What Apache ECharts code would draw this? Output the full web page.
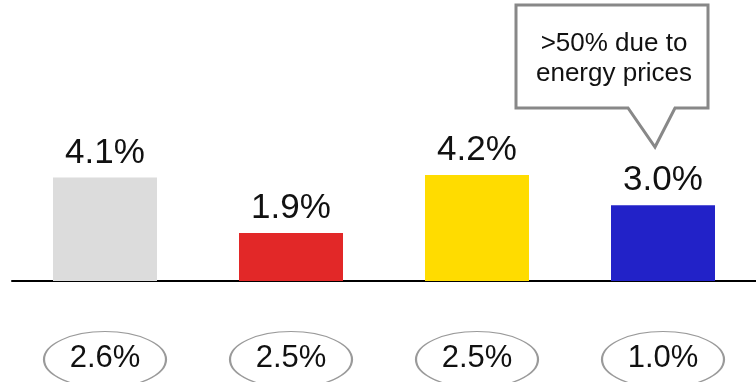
<!DOCTYPE html>
<html>
<head>
<meta charset="utf-8">
<script src="https://cdn.jsdelivr.net/npm/echarts@6/dist/echarts.min.js"></script>
<style>
  html, body { margin: 0; padding: 0; background: #fff; }
  #chart { width: 756px; height: 382px; }
</style>
</head>
<body>
<div id="chart"></div>
<script>
// ---- data ----
var categories = ['Group 1', 'Group 2', 'Group 3', 'Group 4'];
var barValues = [4.1, 1.9, 4.2, 3.0];
var barColors = ['#DCDCDC', '#E22828', '#FFDC00', '#2222C8'];
var ellipseValues = [2.6, 2.5, 2.5, 1.0];
var calloutText = ['>50% due to', 'energy prices'];

// ---- chart ----
var chart = echarts.init(document.getElementById('chart'), null, { renderer: 'canvas' });
var FONT = 'Liberation Sans, Arial, Helvetica, sans-serif';
var ELLIPSE_ROW = -3.11;

var option = {
  animation: false,
  backgroundColor: '#ffffff',
  grid: { left: 12, right: 0, top: 129.6, bottom: -1.6, containLabel: false },
  xAxis: {
    type: 'category',
    data: categories,
    axisLine: { show: true, onZero: true, lineStyle: { color: '#000', width: 2 } },
    axisTick: { show: false },
    axisLabel: { show: false },
    splitLine: { show: false }
  },
  yAxis: {
    type: 'value',
    min: -4,
    max: 6,
    show: false,
    splitLine: { show: false }
  },
  series: [
    {
      type: 'bar',
      barWidth: 104,
      data: barValues.map(function (v, i) {
        return { value: v, itemStyle: { color: barColors[i] } };
      }),
      label: {
        show: true,
        position: 'top',
        distance: 7,
        color: '#111',
        fontFamily: FONT,
        fontSize: 35,
        formatter: function (p) { return p.value.toFixed(1) + '%'; }
      }
    },
    {
      type: 'scatter',
      symbol: 'circle',
      symbolSize: [122, 56],
      data: ellipseValues.map(function (v, i) {
        return [categories[i], ELLIPSE_ROW];
      }),
      itemStyle: { color: 'rgba(255,255,255,0)', borderColor: '#9a9a9a', borderWidth: 1.5, opacity: 1 },
      label: {
        show: true,
        position: 'inside',
        offset: [0, -1],
        color: '#111',
        fontFamily: FONT,
        fontSize: 31,
        formatter: function (p) { return ellipseValues[p.dataIndex].toFixed(1) + '%'; }
      },
      emphasis: { disabled: true }
    }
  ],
  graphic: [
    {
      type: 'polygon',
      shape: {
        points: [[516, 5], [708, 5], [708, 108], [675, 108], [655, 147], [628, 108], [516, 108]]
      },
      style: { fill: '#fff', stroke: '#888', lineWidth: 3, lineJoin: 'miter' },
      z: 10
    },
    {
      type: 'text',
      x: 614,
      y: 59,
      style: {
        text: calloutText.join('\n'),
        font: '26px ' + FONT,
        fill: '#111',
        align: 'center',
        verticalAlign: 'middle',
        lineHeight: 30
      },
      z: 11
    }
  ]
};
chart.setOption(option);
</script>
</body>
</html>
